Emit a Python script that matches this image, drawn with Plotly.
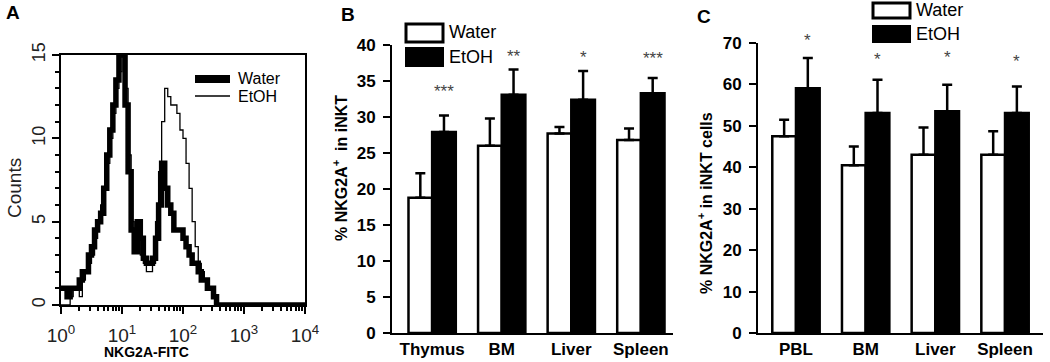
import plotly.graph_objects as go

# ---- panel A: NKG2A-FITC histogram (log10 channel, counts) ----
fitc_log = [0.00, 0.05, 0.10, 0.15, 0.20, 0.25, 0.30, 0.35, 0.40, 0.45,
            0.50, 0.55, 0.60, 0.65, 0.70, 0.75, 0.80, 0.85, 0.90, 0.95,
            1.00, 1.05, 1.10, 1.15, 1.20, 1.25, 1.30, 1.35, 1.40, 1.45,
            1.50, 1.55, 1.60, 1.65, 1.70, 1.75, 1.80, 1.85, 1.90, 1.95,
            2.00, 2.05, 2.10, 2.15, 2.20, 2.25, 2.30, 2.35, 2.40, 2.45,
            2.50, 2.55, 4.00]
water_counts = [1, 1, 0.5, 1, 1, 1, 1.5, 2, 2, 3,
                3.5, 4.5, 5, 5.5, 7, 9, 10.5, 12, 13.5, 15,
                15, 12, 8, 4.5, 3.2, 5, 4, 2.8, 2.5, 2.5,
                2.8, 4, 6, 8.5, 7, 6, 5.5, 4.5, 4.5, 4.5,
                4, 3.5, 3, 2.5, 2.5, 2, 1.5, 1.5, 1, 1,
                0.5, 0, 0]
etoh_counts = [0, 0, 0, 0.5, 1, 1, 0.5, 1.5, 2, 2.5,
               3, 4, 5, 6, 7, 8.5, 10, 11.5, 13, 14,
               15, 13, 9, 5, 3.5, 4, 3, 2.5, 2, 2,
               2.5, 5, 8, 11, 13, 12.5, 12, 12, 11.5, 10.5,
               10, 8.5, 7, 5, 3.5, 2.5, 2, 1.5, 1, 1,
               0.5, 0, 0]

# ---- panel B ----
tissues_b = ["Thymus", "BM", "Liver", "Spleen"]
b_water = [18.8, 26.0, 27.7, 26.8]
b_water_err = [3.4, 3.8, 0.9, 1.6]
b_etoh = [27.9, 33.1, 32.4, 33.3]
b_etoh_err = [2.3, 3.5, 4.0, 2.1]
b_stars = ["***", "**", "*", "***"]
b_star_y = [33.5, 38.4, 38.3, 38.1]

# ---- panel C ----
tissues_c = ["PBL", "BM", "Liver", "Spleen"]
c_water = [47.5, 40.5, 43.0, 43.0]
c_water_err = [4.0, 4.5, 6.6, 5.7]
c_etoh = [59.1, 53.1, 53.5, 53.1]
c_etoh_err = [7.3, 8.0, 6.4, 6.4]
c_stars = ["*", "*", "*", "*"]
c_star_y = [70.0, 66.0, 66.4, 65.6]

W, H = 1050, 362
FONT = "Liberation Sans, Arial, sans-serif"


def px(x):
    return min(1.0, max(0.0, x / W))


def py(y):
    return min(1.0, max(0.0, 1 - y / H))


fig = go.Figure()

# histogram traces
fig.add_trace(go.Scatter(x=[10 ** v for v in fitc_log], y=water_counts, mode="lines",
                         line=dict(color="black", width=5.5, shape="hv"),
                         xaxis="x", yaxis="y", showlegend=False))
fig.add_trace(go.Scatter(x=[10 ** v for v in fitc_log], y=etoh_counts, mode="lines",
                         line=dict(color="black", width=1.3, shape="hv"),
                         xaxis="x", yaxis="y", showlegend=False))


def add_bars(xa, ya, water, water_err, etoh, etoh_err):
    idx = list(range(len(water)))
    err_style = dict(type="data", symmetric=False, color="black", thickness=2.5, width=5)
    fig.add_trace(go.Bar(x=idx, y=water, width=0.34, offset=-0.34,
                         marker=dict(color="white", line=dict(color="black", width=2.5)),
                         error_y=dict(array=water_err, arrayminus=[0] * len(idx), **err_style),
                         xaxis=xa, yaxis=ya, showlegend=False))
    fig.add_trace(go.Bar(x=idx, y=etoh, width=0.34, offset=0,
                         marker=dict(color="black", line=dict(color="black", width=2.5)),
                         error_y=dict(array=etoh_err, arrayminus=[0] * len(idx), **err_style),
                         xaxis=xa, yaxis=ya, showlegend=False))


add_bars("x2", "y2", b_water, b_water_err, b_etoh, b_etoh_err)
add_bars("x3", "y3", c_water, c_water_err, c_etoh, c_etoh_err)

tick_bold = dict(family=FONT, size=17, color="black", weight="bold")
bar_y = dict(showline=True, linecolor="black", linewidth=2, ticks="outside", ticklen=7,
             tickwidth=2, tickcolor="black", showgrid=False, zeroline=False,
             tickfont=tick_bold, automargin=False, ticklabelstandoff=4)
bar_x = dict(showline=True, linecolor="black", linewidth=2, ticks="", showgrid=False,
             zeroline=False, tickfont=tick_bold, automargin=False)

minor_x = [k * 10 ** d for d in range(4) for k in range(2, 10)]

fig.update_layout(
    width=W, height=H,
    margin=dict(l=0, r=0, t=0, b=0),
    paper_bgcolor="white", plot_bgcolor="white",
    barmode="overlay",
    font=dict(family=FONT, color="black"),
    xaxis=dict(domain=[px(61), px(305)], anchor="y", type="log", range=[0, 4],
               showline=True, mirror=True, linecolor="black", linewidth=2,
               tickvals=[1, 10, 100, 1000, 10000],
               ticktext=["10<sup>0</sup>", "10<sup>1</sup>", "10<sup>2</sup>",
                         "10<sup>3</sup>", "10<sup>4</sup>"],
               ticks="outside", ticklen=7, tickwidth=2, tickcolor="black",
               minor=dict(tickvals=minor_x, ticks="outside", ticklen=4, tickwidth=1.5,
                          tickcolor="black", showgrid=False),
               tickfont=dict(family=FONT, size=19, color="#222"), ticklabelstandoff=5,
               showgrid=False, zeroline=False, automargin=False),
    yaxis=dict(domain=[py(305), py(55)], anchor="x", range=[0, 15],
               showline=True, mirror=True, linecolor="black", linewidth=2,
               tickvals=[0, 5, 10, 15], tickangle=-90,
               ticks="outside", ticklen=7, tickwidth=2, tickcolor="black",
               minor=dict(dtick=1, ticks="outside", ticklen=4, tickwidth=1.5,
                          tickcolor="black", showgrid=False),
               tickfont=dict(family=FONT, size=18, color="#222"),
               showgrid=False, zeroline=False, automargin=False),
    xaxis2=dict(domain=[px(392), px(673)], anchor="y2", range=[-0.577, 3.462],
                tickvals=[0, 1, 2, 3], ticktext=tissues_b, **bar_x),
    yaxis2=dict(domain=[py(333), py(45)], anchor="x2", range=[0, 40], dtick=5, **bar_y),
    xaxis3=dict(domain=[px(758), px(1043)], anchor="y3", range=[-0.545, 3.545],
                tickvals=[0, 1, 2, 3], ticktext=tissues_c, **bar_x),
    yaxis3=dict(domain=[py(333), py(43)], anchor="x3", range=[0, 70], dtick=10, **bar_y),
)

ann = []
# significance stars
for i, (s, y) in enumerate(zip(b_stars, b_star_y)):
    ann.append(dict(x=i + 0.17, y=y, xref="x2", yref="y2", text=s, showarrow=False,
                    font=dict(size=17, color="#444")))
for i, (s, y) in enumerate(zip(c_stars, c_star_y)):
    ann.append(dict(x=i + 0.17, y=y, xref="x3", yref="y3", text=s, showarrow=False,
                    yshift=2 if i == 0 else 0, font=dict(size=17, color="#444")))


def label(x, y, text, size, bold=False, angle=0, xanchor="center", color="black"):
    ann.append(dict(x=px(x), y=py(y), xref="paper", yref="paper", text=text,
                    showarrow=False, textangle=angle, xanchor=xanchor, yanchor="middle",
                    font=dict(family=FONT, size=size, color=color,
                              weight="bold" if bold else "normal")))


label(13, 13, "A", 19, bold=True)
label(348, 15, "B", 19, bold=True)
label(704, 16, "C", 19, bold=True)
label(14, 188, "Counts", 19, angle=-90, color="#222")
label(146, 352, "NKG2A-FITC", 14, bold=True)
label(340, 168, "% NKG2A<sup>+</sup>  in iNKT", 16, bold=True, angle=-90)
label(705, 203, "% NKG2A<sup>+</sup> in iNKT cells", 16, bold=True, angle=-90)
# legend texts
label(236, 79, "Water", 16, xanchor="left")
label(236, 97, "EtOH", 16, xanchor="left")
label(447, 32, "Water", 18, xanchor="left")
label(447, 57, "EtOH", 18, xanchor="left")
label(914, 10, "Water", 18, xanchor="left")
label(914, 34, "EtOH", 18, xanchor="left")

shapes = [
    dict(type="rect", xref="paper", yref="paper", x0=px(195), x1=px(230), y0=py(83), y1=py(75),
         fillcolor="black", line=dict(width=0)),
    dict(type="line", xref="paper", yref="paper", x0=px(195), x1=px(230), y0=py(96), y1=py(96),
         line=dict(color="black", width=1.5)),
    dict(type="rect", xref="paper", yref="paper", x0=px(406), x1=px(443), y0=py(42), y1=py(24),
         fillcolor="white", line=dict(color="black", width=3)),
    dict(type="rect", xref="paper", yref="paper", x0=px(405), x1=px(444), y0=py(67), y1=py(47),
         fillcolor="black", line=dict(width=0)),
    dict(type="rect", xref="paper", yref="paper", x0=px(873), x1=px(910), y0=py(18), y1=py(3),
         fillcolor="white", line=dict(color="black", width=3)),
    dict(type="rect", xref="paper", yref="paper", x0=px(872), x1=px(911), y0=py(43), y1=py(25),
         fillcolor="black", line=dict(width=0)),
]

fig.update_layout(annotations=ann, shapes=shapes)
# drop the default page margin so the 1050x362 figure fills the window exactly
fig.write_html("out.html", config={"displayModeBar": False},
               post_script="document.body.style.margin = '0';")
